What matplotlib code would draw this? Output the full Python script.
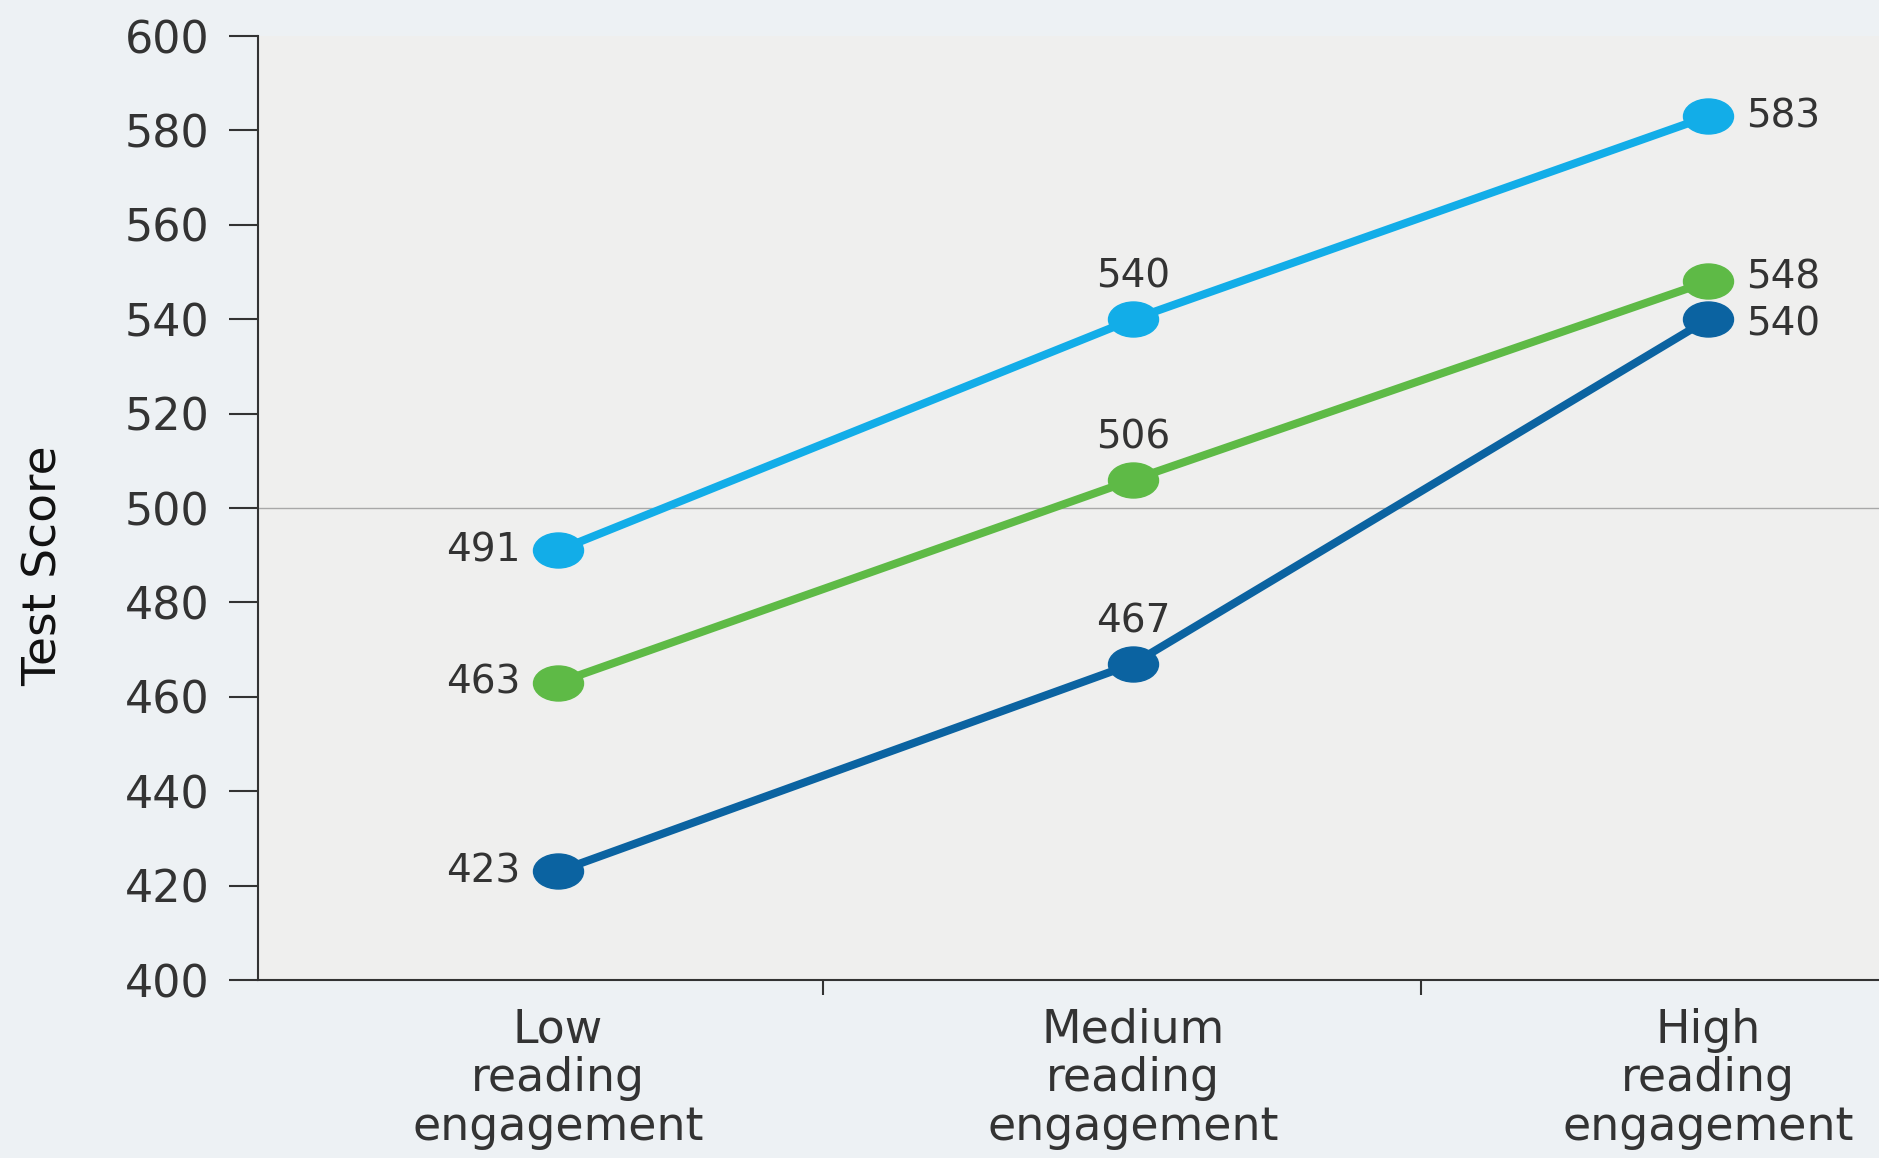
import matplotlib

matplotlib.use("Agg")
import matplotlib.pyplot as plt
from matplotlib.path import Path
from matplotlib.transforms import Affine2D

# data
categories = ["Low\nreading\nengagement", "Medium\nreading\nengagement", "High\nreading\nengagement"]
upper_scores = [491, 540, 583]
middle_scores = [463, 506, 548]
lower_scores = [423, 467, 540]
y_ticks = list(range(400, 601, 20))

colors = {"upper": "#12ADE8", "middle": "#5EBA46", "lower": "#0B63A1"}
text_color = "#333333"

plt.rcParams["font.family"] = ["DejaVu Sans"]

fig = plt.figure(figsize=(18.79, 11.58), dpi=100, facecolor="#EDF1F4")
ax = fig.add_axes([0.1373, 0.1537, 0.8627, 0.8152])
ax.set_facecolor("#EFEFEE")

# the markers in the source are slightly squashed circles
ellipse = Path.unit_circle().transformed(Affine2D().scale(1.0, 0.7))

xs = list(range(len(categories)))
series = [("upper", upper_scores), ("middle", middle_scores), ("lower", lower_scores)]
for key, values in series:
    ax.plot(xs, values, color=colors[key], lw=5.8, marker=ellipse, markersize=36,
            solid_capstyle="round", zorder=3)

ax.axhline(500, color="#A8A8A8", lw=1, zorder=1)

# value labels: left of the first point, above the middle one, right of the last
label_style = dict(fontsize=28, color=text_color, textcoords="offset points")
for key, values in series:
    ax.annotate(str(values[0]), (xs[0], values[0]), xytext=(-27, 0),
                ha="right", va="center", **label_style)
    ax.annotate(str(values[1]), (xs[1], values[1]), xytext=(0, 17),
                ha="center", va="bottom", **label_style)
nudge = {"upper": 0, "middle": 3, "lower": -4}
for key, values in series:
    ax.annotate(str(values[2]), (xs[2], values[2]), xytext=(27, nudge[key]),
                ha="left", va="center", **label_style)

ax.set_xlim(-0.5217, 2.297)
ax.set_ylim(400, 600)

ax.set_yticks(y_ticks)
ax.tick_params(axis="y", length=21, width=1.5, pad=14, labelsize=32,
               colors=text_color)

ax.set_xticks(xs, categories)
ax.set_xticks([0.46, 1.5], minor=True)
ax.tick_params(axis="x", which="major", length=0, pad=20, labelsize=33,
               colors=text_color)
ax.tick_params(axis="x", which="minor", length=11, width=1.5, color=text_color)
for lbl in ax.get_xticklabels():
    lbl.set_linespacing(1.1)

ax.set_ylabel("Test Score", fontsize=34, color="#111111")
ax.yaxis.set_label_coords(-0.118, 0.439)

for side in ("top", "right"):
    ax.spines[side].set_visible(False)
for side in ("left", "bottom"):
    ax.spines[side].set_color(text_color)
    ax.spines[side].set_linewidth(1.5)

fig.savefig("out.png", dpi=100, facecolor=fig.get_facecolor())
